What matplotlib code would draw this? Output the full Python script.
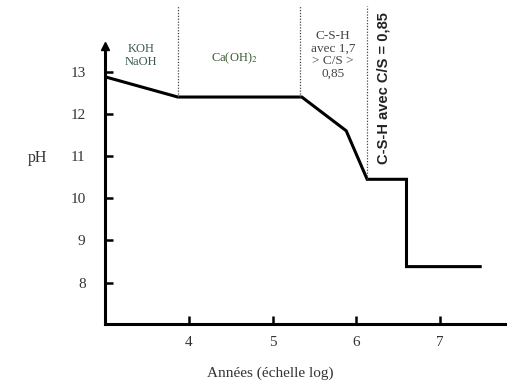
import matplotlib.pyplot as plt

# log(years) vs pH
log_years = [3.0, 3.87, 5.35, 5.88, 6.13, 6.6, 6.6, 7.48]
ph = [12.88, 12.4, 12.4, 11.6, 10.45, 10.45, 8.38, 8.38]

# zone boundaries (dotted lines): x position and where they stop
bound_x = [3.87, 5.33, 6.13]
bound_y = [12.4, 12.4, 10.45]

x_ticks = [4, 5, 6, 7]
y_ticks = [8, 9, 10, 11, 12, 13]

plt.rcParams['font.family'] = ['Liberation Serif', 'DejaVu Serif']
plt.rcParams['mathtext.fontset'] = 'stix'

fig = plt.figure(figsize=(5.07, 3.9), dpi=100)
ax = fig.add_axes([105 / 507, 66 / 390, 402 / 507, 324 / 390])
ax.set_xlim(3.0, 7.8)
ax.set_ylim(7.02, 14.7)

ax.plot(log_years, ph, color='black', lw=2.2, solid_joinstyle='miter')

for bx, by in zip(bound_x, bound_y):
    ax.plot([bx, bx], [by, 14.55], color='#444444', lw=0.9, ls=(0, (1, 1.3)))

for s in ['top', 'right']:
    ax.spines[s].set_visible(False)
ax.spines['left'].set_bounds(7.02, 13.6)
ax.spines['left'].set_linewidth(2.2)
ax.spines['bottom'].set_linewidth(2.2)
ax.plot([3.0], [13.62], marker='^', color='black', ms=6, clip_on=False)

ax.set_xticks(x_ticks)
ax.set_yticks(y_ticks)
ax.tick_params(direction='in', length=6, width=1.8, labelsize=11, colors='black')
ax.tick_params(axis='y', pad=14, labelcolor='#333333')
ax.tick_params(axis='x', pad=9, labelcolor='#333333')

ax.text(2.19, 10.95, 'pH', fontsize=11.5, color='#333333',
        ha='center', va='center')
fig.text(270 / 507, 17 / 390, 'Années (échelle log)', fontsize=11,
         color='#333333', ha='center', va='center')

ax.text(3.43, 13.38, 'KOH\nNaOH', fontsize=9, color='#3a5a50', ha='center',
        va='center', linespacing=1.1)
ax.text(4.55, 13.33, 'Ca(OH)$_2$', fontsize=9, color='#3a5a30', ha='center',
        va='center')
ax.text(5.72, 13.4, 'C-S-H\navec 1,7\n> C/S >\n0,85', fontsize=9.5,
        color='#444444', ha='center', va='center', linespacing=1.05)
ax.text(6.33, 12.62, 'C-S-H avec C/S = 0,85', fontsize=10.5, rotation=90,
        family=['Liberation Sans', 'DejaVu Sans'], fontweight='bold',
        color='#222222', ha='center', va='center')

fig.savefig('out.png', dpi=100)
